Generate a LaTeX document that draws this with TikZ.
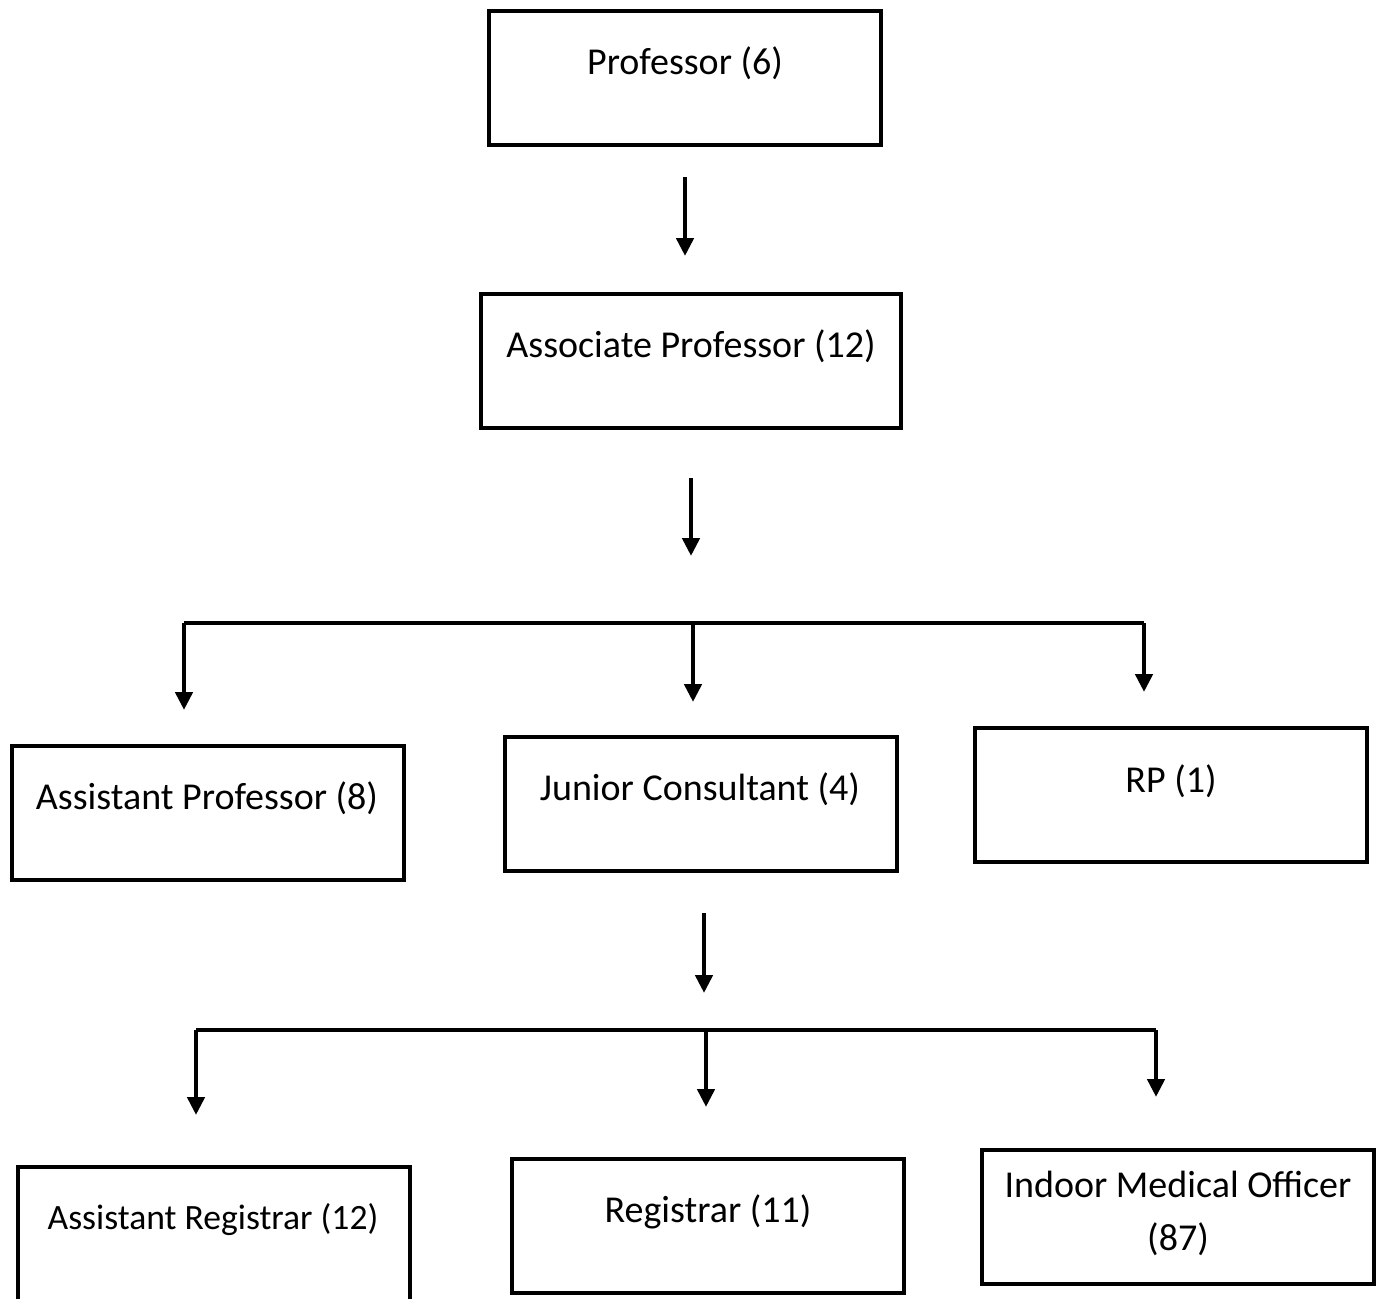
\documentclass[tikz,border=0pt]{standalone}
\usepackage{fontspec}
\setmainfont{Carlito}
\usetikzlibrary{arrows.meta}
\tikzset{
  post/.style={draw, line width=2.2pt, minimum width=196pt, minimum height=67pt, inner sep=0pt},
  lbl/.style={font=\fontsize{19}{26.5}\selectfont, align=center},
  arr/.style={line width=2.4pt, -{Triangle[length=9pt,width=8.5pt]}},
  bar/.style={line width=2.4pt}
}
\begin{document}
\begin{tikzpicture}[x=0.5pt, y=-0.5pt]
    \useasboundingbox (0,0) rectangle (1384,1298);
    % posts
    \node[post] (prof) at (685,78) {};
    \node[post, minimum width=210pt] (assoc) at (691,361) {};
    \node[post] (asstprof) at (208,813) {};
    \node[post] (junior) at (701,804) {};
    \node[post] (rp) at (1171,795) {};
    \node[post] (asstreg) at (214,1234) {};
    \node[post] (reg) at (708,1226) {};
    \node[post] (imo) at (1178,1217) {};
    % labels
    \node[lbl] (profT) at (685,63) {Professor (6)};
    \node[lbl] (assocT) at (691,346) {Associate Professor (12)};
    \node[lbl] (asstprofT) at (207,798) {Assistant Professor (8)};
    \node[lbl] (juniorT) at (700,789) {Junior Consultant (4)};
    \node[lbl] (rpT) at (1171,781) {RP (1)};
    \node[lbl, font=\fontsize{17.8}{24}\selectfont] (asstregT) at (213,1220) {Assistant Registrar (12)};
    \node[lbl] (regT) at (708,1212) {Registrar (11)};
    \node[lbl] (imoT) at (1178,1213) {Indoor Medical Officer\\(87)};
    % connector points
    \coordinate (a1) at (685,177);
    \coordinate (a2) at (685,256);
    \coordinate (b1) at (691,478);
    \coordinate (b2) at (691,556);
    \coordinate (c1) at (704,913);
    \coordinate (c2) at (704,993);
    \coordinate (bl) at (184,623);
    \coordinate (bm) at (693,623);
    \coordinate (br) at (1144,623);
    \coordinate (dl) at (196,1030);
    \coordinate (dm) at (706,1030);
    \coordinate (dr) at (1156,1030);
    % arrows
    \draw[arr] (a1) -- (a2);
    \draw[arr] (b1) -- (b2);
    \draw[arr] (c1) -- (c2);
    \draw[bar] (bl) -- (br);
    \draw[bar] (dl) -- (dr);
    \draw[arr] (bl) -- (184,710);
    \draw[arr] (bm) -- (693,702);
    \draw[arr] (br) -- (1144,692);
    \draw[arr] (dl) -- (196,1115);
    \draw[arr] (dm) -- (706,1107);
    \draw[arr] (dr) -- (1156,1097);
\end{tikzpicture}
\end{document}
